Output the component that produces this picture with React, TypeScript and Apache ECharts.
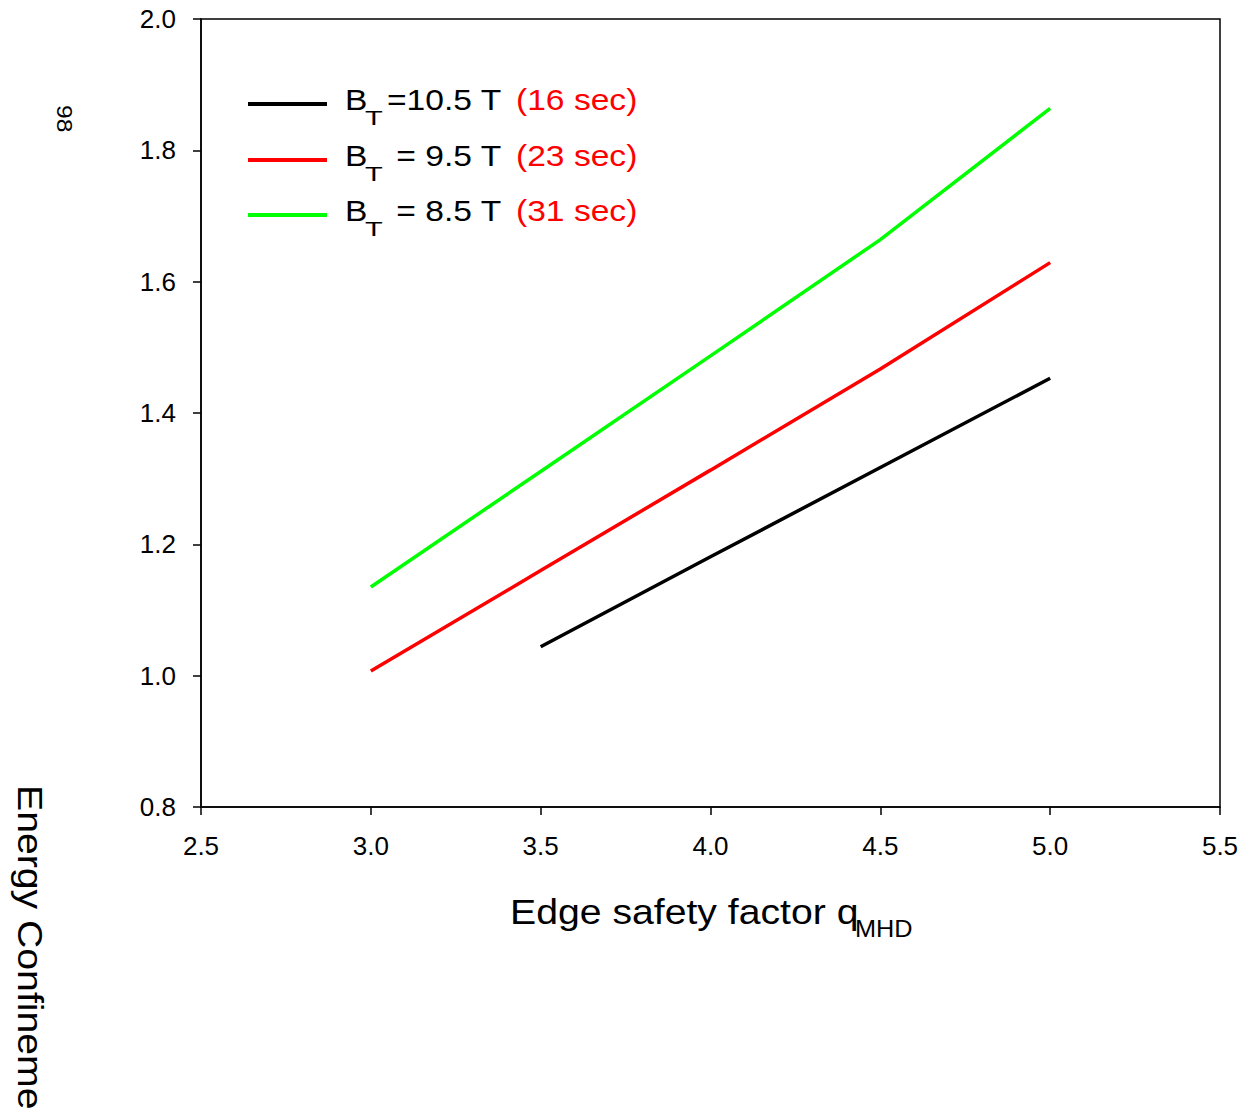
import React, { useEffect, useRef } from "react";
import * as echarts from "echarts";

const xTicks = [2.5, 3.0, 3.5, 4.0, 4.5, 5.0, 5.5];
const yTicks = [0.8, 1.0, 1.2, 1.4, 1.6, 1.8, 2.0];

const qBlack = [3.5, 4.0, 4.5, 5.0];
const hBlack = [1.044, 1.181, 1.317, 1.453];

const qRed = [3.0, 3.5, 4.0, 4.5, 5.0];
const hRed = [1.007, 1.160, 1.313, 1.467, 1.629];

const qGreen = [3.0, 3.5, 4.0, 4.5, 5.0];
const hGreen = [1.135, 1.311, 1.487, 1.664, 1.864];

const legendB = ["=10.5 T", " = 9.5 T", " = 8.5 T"];
const legendTime = ["(16 sec)", "(23 sec)", "(31 sec)"];
const seriesColors = ["#000000", "#ff0000", "#00ff00"];

const xTitle = "Edge safety factor q";
const xTitleSub = "MHD";
const yTitle = "Energy Confineme";
const yTitleSub = "98";

const FONT = "'Liberation Sans', Arial, Helvetica, sans-serif";

const zip = (a: number[], b: number[]) => a.map((v, i) => [v, b[i]]);

export default function App() {
  const ref = useRef<HTMLDivElement>(null);
  useEffect(() => {
    if (!ref.current) return;
    const chart = echarts.init(ref.current, null, { renderer: "svg" });
    const legendRowsY = [104, 160, 215];
    const SX = 1.12;
    const graphics: any[] = [];
    legendRowsY.forEach((y, i) => {
      graphics.push({
        type: "line",
        shape: { x1: 248, y1: y, x2: 327, y2: y },
        style: { stroke: seriesColors[i], lineWidth: 4 },
      });
      graphics.push({
        type: "text",
        x: 345,
        y: y - 4,
        scaleX: SX,
        style: { text: "B", font: `30px ${FONT}`, fill: "#000", textAlign: "left", textVerticalAlign: "middle" },
      });
      graphics.push({
        type: "text",
        x: 365,
        y: y + 14,
        scaleX: 1.45,
        style: { text: "T", font: `20px ${FONT}`, fill: "#000", textAlign: "left", textVerticalAlign: "middle" },
      });
      graphics.push({
        type: "text",
        x: 387,
        y: y - 4,
        scaleX: SX,
        style: { text: legendB[i], font: `30px ${FONT}`, fill: "#000", textAlign: "left", textVerticalAlign: "middle" },
      });
      graphics.push({
        type: "text",
        x: 516,
        y: y - 4,
        scaleX: SX,
        style: { text: legendTime[i], font: `30px ${FONT}`, fill: "#ff0000", textAlign: "left", textVerticalAlign: "middle" },
      });
    });
    graphics.push({
      type: "text",
      x: 510,
      y: 912,
      scaleX: SX,
      style: { text: xTitle, font: `35px ${FONT}`, fill: "#000", textAlign: "left", textVerticalAlign: "middle" },
    });
    graphics.push({
      type: "text",
      x: 855,
      y: 929,
      scaleX: 1.1,
      style: { text: xTitleSub, font: `23px ${FONT}`, fill: "#000", textAlign: "left", textVerticalAlign: "middle" },
    });
    graphics.push({
      type: "text",
      x: 30,
      y: 785,
      rotation: -Math.PI / 2,
      scaleX: SX,
      style: { text: yTitle, font: `35px ${FONT}`, fill: "#000", textAlign: "left", textVerticalAlign: "middle" },
    });
    graphics.push({
      type: "text",
      x: 65,
      y: 105,
      rotation: -Math.PI / 2,
      scaleX: SX,
      style: { text: yTitleSub, font: `22px ${FONT}`, fill: "#000", textAlign: "left", textVerticalAlign: "middle" },
    });

    const mkSeries = (name: string, xs: number[], ys: number[], color: string) => ({
      name,
      type: "line",
      data: zip(xs, ys),
      showSymbol: false,
      symbol: "none",
      lineStyle: { color, width: 3.5 },
      itemStyle: { color },
    });

    chart.setOption({
      animation: false,
      backgroundColor: "#ffffff",
      grid: {
        left: 201,
        top: 19,
        right: 25,
        bottom: 302,
        show: true,
        borderColor: "#000",
        borderWidth: 1.5,
        backgroundColor: "transparent",
      },
      xAxis: {
        type: "value",
        min: xTicks[0],
        max: xTicks[xTicks.length - 1],
        interval: 0.5,
        axisLine: { show: true, lineStyle: { color: "#000", width: 1.5 } },
        axisTick: { show: true, inside: false, length: 8, lineStyle: { color: "#000", width: 1.5 } },
        splitLine: { show: false },
        axisLabel: {
          color: "#000",
          fontSize: 26,
          fontFamily: FONT,
          margin: 26,
          formatter: (v: number) => v.toFixed(1),
        },
      },
      yAxis: {
        type: "value",
        min: yTicks[0],
        max: yTicks[yTicks.length - 1],
        interval: 0.2,
        axisLine: { show: true, lineStyle: { color: "#000", width: 1.5 } },
        axisTick: { show: true, inside: false, length: 8, lineStyle: { color: "#000", width: 1.5 } },
        splitLine: { show: false },
        axisLabel: {
          color: "#000",
          fontSize: 26,
          fontFamily: FONT,
          margin: 25,
          formatter: (v: number) => v.toFixed(1),
        },
      },
      series: [
        mkSeries("BT=10.5 T", qBlack, hBlack, seriesColors[0]),
        mkSeries("BT=9.5 T", qRed, hRed, seriesColors[1]),
        mkSeries("BT=8.5 T", qGreen, hGreen, seriesColors[2]),
      ],
      graphic: graphics,
    });
    return () => chart.dispose();
  }, []);
  return (
    <div
      ref={ref}
      style={{ position: "absolute", left: 0, top: 0, width: 1245, height: 1109, overflow: "hidden", background: "#fff" }}
    />
  );
}
